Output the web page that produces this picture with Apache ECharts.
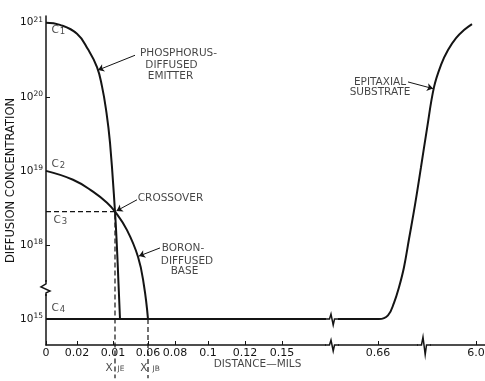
<!DOCTYPE html>
<html>
<head>
<meta charset="utf-8">
<script src="https://cdn.jsdelivr.net/npm/echarts@6/dist/echarts.min.js"></script>
<style>
  html, body { margin: 0; padding: 0; background: #fff; }
  #chart { width: 485px; height: 381px; }
</style>
</head>
<body>
<div id="chart"></div>
<script>
// Impurity profile of a double-diffused transistor.
// x: schematic distance positions (ticks labelled in mils, with breaks).
// y: log10 of concentration, with a break between 10^18 and 10^15
//    (10^15 is drawn one decade below 10^18).

// ---- axis ticks ----
const xTickPos    = [0, 3.1, 6.7, 10.2, 12.9, 16.2, 19.9, 23.6, 33.2, 43.0];
const xTickLabels = ['0', '0.02', '0.01', '0.06', '0.08', '0.1', '0.12', '0.15', '0.66', '6.0'];
const yTickPos    = [17, 18, 19, 20, 21];
const yTickExp    = ['15', '18', '19', '20', '21'];

// ---- phosphorus-diffused emitter ----
const phosX = [0, 1.4, 3.1, 4.2, 5.1, 5.6, 6.0, 6.4, 6.9, 7.1, 7.25, 7.4];
const phosY = [21.0, 20.97, 20.85, 20.64, 20.40, 20.14, 19.83, 19.38, 18.45, 17.95, 17.48, 17.0];

// ---- boron-diffused base ----
const boronX = [0, 2.7, 4.7, 6.1, 6.9, 8.1, 9.2, 9.8, 10.2];
const boronY = [19.0, 18.88, 18.72, 18.57, 18.45, 18.20, 17.84, 17.45, 17.0];

// ---- background level C4 and epitaxial substrate ----
const subX = [0, 32.4, 33.3, 34.2, 34.8, 35.3, 35.8, 36.3, 36.9, 37.5, 38.1, 38.8, 39.5, 40.2, 41.0, 41.8, 42.6];
const subY = [17.0, 17.0, 17.0, 17.05, 17.22, 17.43, 17.70, 18.08, 18.54, 19.05, 19.57, 20.13, 20.43, 20.63, 20.79, 20.90, 20.98];

// ---- crossover and junction depths ----
const crossover = [6.9, 18.45];
const xJB = 10.2;
const guideBottom = 16.2;

// ---- call-out texts ----
const noteText = ['PHOSPHORUS-', 'DIFFUSED', 'EMITTER', 'CROSSOVER', 'BORON-', 'DIFFUSED', 'BASE', 'EPITAXIAL', 'SUBSTRATE', 'DISTANCE\u2014MILS'];
const noteX    = [13.3, 12.6, 12.5, 12.5, 13.75, 14.15, 13.9, 33.45, 33.45, 21.2];
const noteY    = [20.58, 20.42, 20.27, 18.62, 17.95, 17.78, 17.64, 20.19, 20.06, 16.39];

// ---- level markers C1..C4 ----
const levelNames = ['1', '2', '3', '4'];
const levelX     = [0.6, 0.6, 0.8, 0.6];
const levelY     = [20.89, 19.08, 18.32, 17.14];

// ---- junction labels ----
const junctionNames = ['JE', 'JB'];
const junctionX     = [6.95, 10.45];
const junctionY     = [16.33, 16.33];

// ---- arrows from call-outs to curves ----
const arrowFrom = [[8.9, 20.56], [9.1, 18.61], [11.4, 17.96], [36.2, 20.20]];
const arrowTo   = [[5.2, 20.36], [7.05, 18.46], [9.3, 17.85], [38.7, 20.11]];

// ---- axis breaks (x, y, on vertical stroke?, large?) ----
const breakMarks = [[28.6, 16.65, 0, 0], [37.8, 16.65, 0, 1], [28.6, 17.0, 0, 0], [0, 17.42, 1, 0]];

const FONT = '"DejaVu Sans", "Liberation Sans", sans-serif';
const INK = '#141414';

const pairs = (xs, ys) => xs.map((x, i) => [x, ys[i]]);

const chart = echarts.init(document.getElementById('chart'));

const curveStyle = { color: INK, width: 2 };

const option = {
  animation: false,
  backgroundColor: '#fff',
  grid: { left: 46, right: 0, top: 16, bottom: 36, outerBoundsMode: 'none', containLabel: false },
  xAxis: {
    type: 'value', min: 0, max: 43.9,
    axisLine: { show: true, lineStyle: { color: INK, width: 1.5 } },
    axisTick: { show: true, inside: true, length: 4, customValues: xTickPos, lineStyle: { color: INK, width: 1 } },
    axisLabel: {
      customValues: xTickPos, margin: 3,
      fontFamily: FONT, fontSize: 11, color: INK,
      formatter: v => {
        const i = xTickPos.findIndex(p => Math.abs(p - v) < 1e-6);
        return i >= 0 ? xTickLabels[i] : '';
      }
    },
    splitLine: { show: false }
  },
  yAxis: {
    type: 'value', min: 16.65, max: 21.09,
    name: 'DIFFUSION CONCENTRATION',
    nameLocation: 'middle', nameRotate: 90, nameGap: 29, nameMoveOverlap: false,
    nameTextStyle: { fontFamily: FONT, fontSize: 11.5, color: INK },
    axisLine: { show: true, lineStyle: { color: INK, width: 1.5 } },
    axisTick: { show: true, inside: true, length: 4, customValues: yTickPos, lineStyle: { color: INK, width: 1 } },
    axisLabel: {
      customValues: yTickPos, margin: 3,
      formatter: v => {
        const i = yTickPos.findIndex(p => Math.abs(p - v) < 1e-6);
        return i >= 0 ? '{b|10}{s|' + yTickExp[i] + '}' : '';
      },
      rich: {
        b: { fontFamily: FONT, fontSize: 10.5, color: INK, lineHeight: 14 },
        s: { fontFamily: FONT, fontSize: 7.5, color: INK, verticalAlign: 'top', lineHeight: 14, padding: [0, 0, 6, 0] }
      }
    },
    splitLine: { show: false }
  },
  series: [
    {
      name: 'Phosphorus', type: 'line', data: pairs(phosX, phosY),
      symbol: 'none', smooth: 0.45, lineStyle: curveStyle, z: 3
    },
    {
      name: 'Boron', type: 'line', data: pairs(boronX, boronY),
      symbol: 'none', smooth: 0.45, lineStyle: curveStyle, z: 3
    },
    {
      name: 'Substrate', type: 'line', data: pairs(subX, subY),
      symbol: 'none', smooth: 0.4, lineStyle: curveStyle, z: 3
    },
    {
      // C3 level and emitter junction depth
      name: 'C3 / xJE', type: 'line', clip: false,
      data: [[0, crossover[1]], crossover, [crossover[0], guideBottom]],
      symbol: 'none', lineStyle: { color: INK, width: 1.2, type: [5, 3] }, z: 2
    },
    {
      // base junction depth
      name: 'xJB', type: 'line', clip: false,
      data: [[xJB, 17.0], [xJB, guideBottom]],
      symbol: 'none', lineStyle: { color: INK, width: 1.2, type: [5, 3] }, z: 2
    },
    {
      name: 'Arrows', type: 'lines', coordinateSystem: 'cartesian2d',
      symbol: ['none', 'arrow'], symbolSize: 6,
      lineStyle: { color: INK, width: 1, opacity: 1 },
      data: arrowFrom.map((f, i) => ({ coords: [f, arrowTo[i]] })), z: 4
    },
    {
      name: 'Notes', type: 'scatter', clip: false, symbolSize: 1,
      itemStyle: { color: 'rgba(0,0,0,0)' }, silent: true,
      label: {
        show: true, position: [0, 0], align: 'center', verticalAlign: 'middle',
        fontFamily: FONT, fontSize: 10.5, color: INK,
        formatter: p => p.name
      },
      data: noteText.map((t, i) => ({ name: t, value: [noteX[i], noteY[i]] })), z: 5
    },
    {
      name: 'Levels', type: 'scatter', clip: false, symbolSize: 1,
      itemStyle: { color: 'rgba(0,0,0,0)' }, silent: true,
      label: {
        show: true, position: [0, 0], align: 'left', verticalAlign: 'middle',
        formatter: p => '{c|C}{n|' + p.name + '}',
        rich: {
          c: { fontFamily: FONT, fontSize: 10.5, color: INK },
          n: { fontFamily: FONT, fontSize: 8.5, color: INK, padding: [3, 0, 0, 1] }
        }
      },
      data: levelNames.map((t, i) => ({ name: t, value: [levelX[i], levelY[i]] })), z: 5
    },
    {
      name: 'Junctions', type: 'scatter', clip: false, symbolSize: 1,
      itemStyle: { color: 'rgba(0,0,0,0)' }, silent: true,
      label: {
        show: true, position: [0, 0], align: 'center', verticalAlign: 'middle',
        formatter: p => '{x|X}{j|' + p.name + '}',
        rich: {
          x: { fontFamily: FONT, fontSize: 10.5, color: INK, padding: [0, 5, 0, 0] },
          j: { fontFamily: FONT, fontSize: 7.5, color: INK, padding: [2, 0, 0, 0] }
        }
      },
      data: junctionNames.map((t, i) => ({ name: t, value: [junctionX[i], junctionY[i]] })), z: 5
    },
    {
      // zigzag break symbols on the axes and the background level
      name: 'Breaks', type: 'custom', clip: false, silent: true, z: 6,
      data: breakMarks,
      encode: { x: 0, y: 1 },
      renderItem: (params, api) => {
        const p = api.coord([api.value(0), api.value(1)]);
        const vertical = api.value(2) === 1;
        const k = api.value(3) === 1 ? 1.6 : 1;
        let pts, cover;
        if (vertical) {
          pts = [[0, -8], [0, -4], [-5, -1], [4, 3], [0, 5], [0, 8]];
          cover = { x: -2, y: -6, width: 4, height: 12 };
        } else {
          pts = [[-7, 0], [-2.5, 0], [-1, -5 * k], [1.2, 6 * k], [2.5, 0], [7, 0]];
          cover = { x: -6, y: -2, width: 12, height: 4 };
        }
        return {
          type: 'group', x: p[0], y: p[1],
          children: [
            { type: 'rect', shape: cover, style: { fill: '#fff' } },
            { type: 'polyline', shape: { points: pts }, style: { stroke: INK, lineWidth: 1.5, fill: null } }
          ]
        };
      }
    }
  ]
};

chart.setOption(option);
</script>
</body>
</html>
